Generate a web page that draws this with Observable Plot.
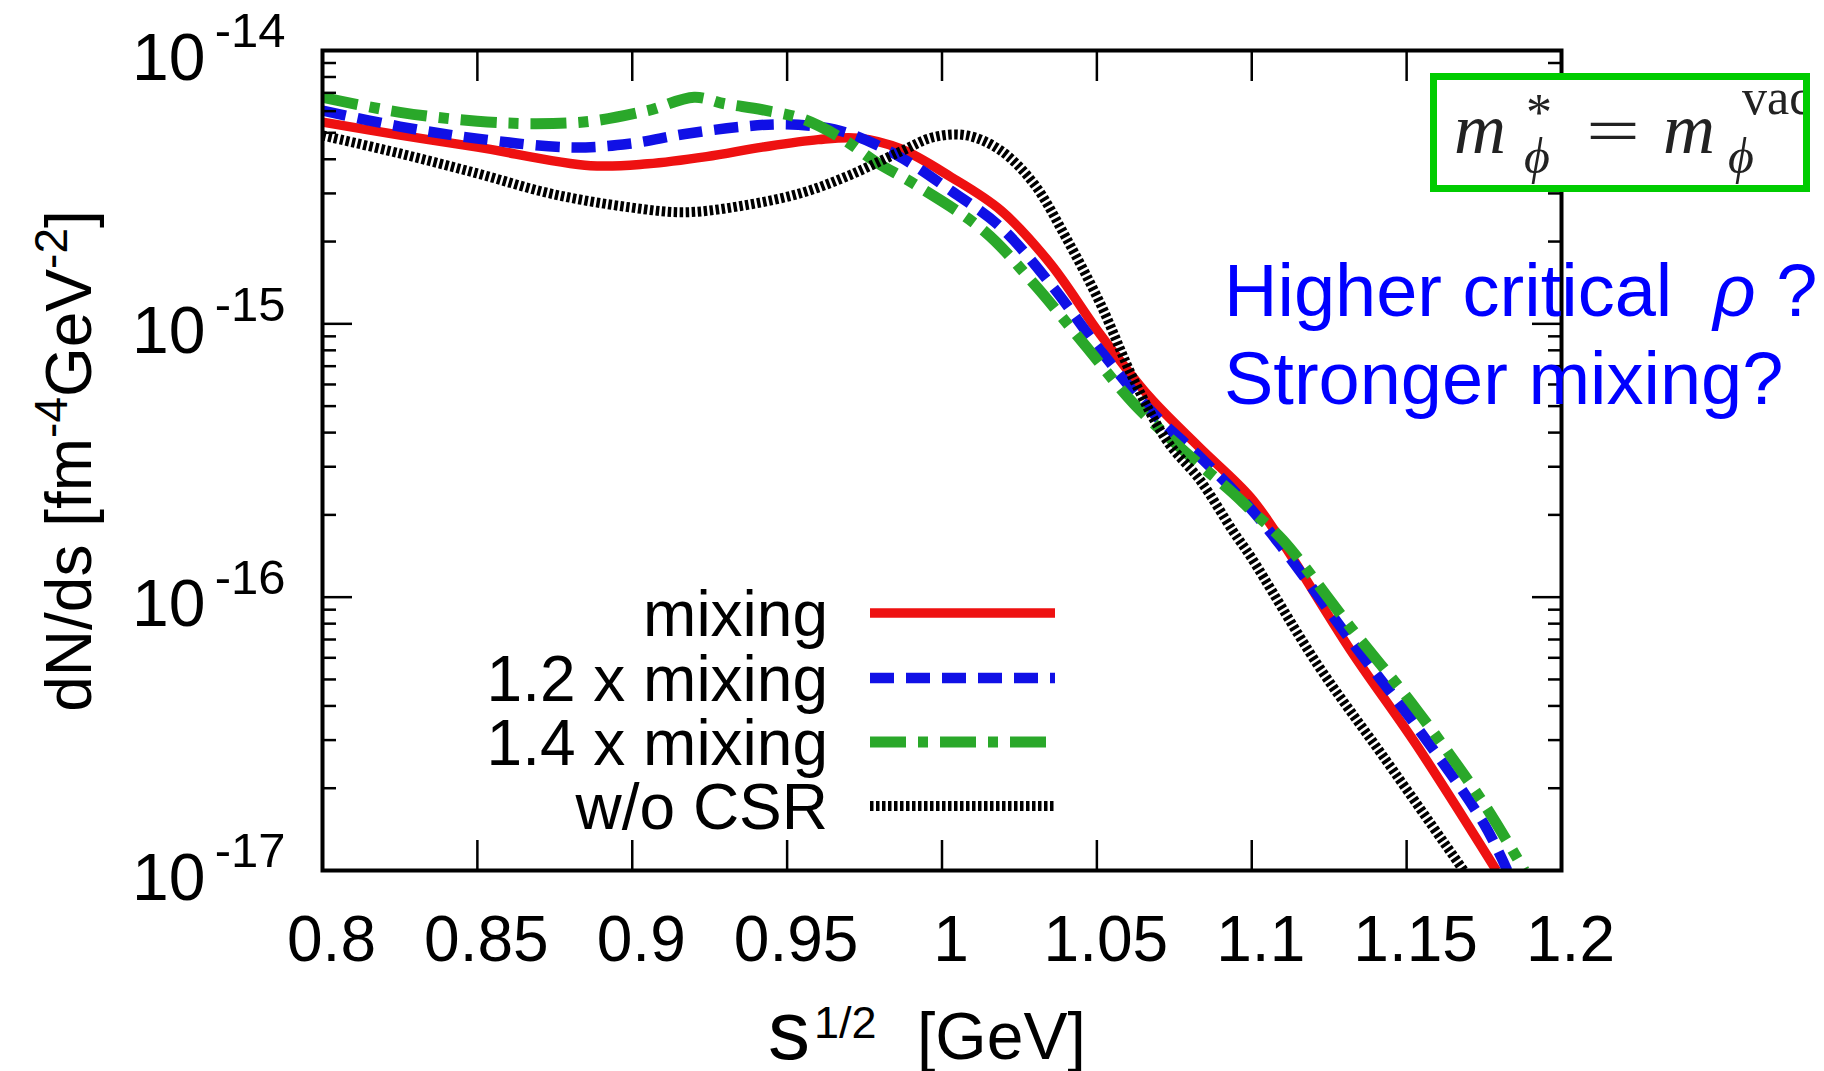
<!DOCTYPE html>
<html>
<head>
<meta charset="utf-8">
<script src="https://cdn.jsdelivr.net/npm/d3@7"></script>
<script src="https://cdn.jsdelivr.net/npm/@observablehq/plot@0.6"></script>
<style>
  html, body { margin: 0; padding: 0; background: #fff; }
  #chart { position: relative; width: 1824px; height: 1071px; overflow: hidden; }
  #chart svg { display: block; }
</style>
</head>
<body>
<div id="chart"></div>
<script>
// ---------------- data ----------------
const xTicks = [0.8, 0.85, 0.9, 0.95, 1.0, 1.05, 1.1, 1.15, 1.2];
const xTickLabels = ["0.8", "0.85", "0.9", "0.95", "1", "1.05", "1.1", "1.15", "1.2"];
const yMajorTicks = [1e-14, 1e-15, 1e-16, 1e-17];
const yTickExponents = ["-14", "-15", "-16", "-17"];
const yMinorTicks = [
  2e-17, 3e-17, 4e-17, 5e-17, 6e-17, 7e-17, 8e-17, 9e-17,
  2e-16, 3e-16, 4e-16, 5e-16, 6e-16, 7e-16, 8e-16, 9e-16,
  2e-15, 3e-15, 4e-15, 5e-15, 6e-15, 7e-15, 8e-15, 9e-15
];

const seriesNames = ["mixing", "1.2 x mixing", "1.4 x mixing", "w/o CSR"];
const seriesColors = ["#ee1111", "#1010e6", "#2aa82a", "#000000"];

const mixingX = [0.80, 0.825, 0.85, 0.8865, 0.905, 0.924, 0.942, 0.96, 0.973, 0.9866, 1.003, 1.019, 1.035, 1.051, 1.067, 1.083, 1.0996, 1.110, 1.132, 1.153, 1.179];
const mixingY = [5.47e-15, 4.90e-15, 4.43e-15, 3.79e-15, 3.85e-15, 4.09e-15, 4.43e-15, 4.72e-15, 4.78e-15, 4.37e-15, 3.44e-15, 2.60e-15, 1.66e-15, 9.18e-16, 5.40e-16, 3.54e-16, 2.32e-16, 1.58e-16, 6.38e-17, 2.90e-17, 1.00e-17];

const mix12X = [0.80, 0.825, 0.85, 0.88, 0.899, 0.917, 0.936, 0.948, 0.961, 0.9705, 0.9866, 1.0027, 1.0189, 1.035, 1.0512, 1.0673, 1.0834, 1.0996, 1.110, 1.132, 1.1534, 1.175, 1.1825];
const mix12Y = [6.03e-15, 5.27e-15, 4.76e-15, 4.42e-15, 4.56e-15, 4.95e-15, 5.27e-15, 5.37e-15, 5.25e-15, 4.95e-15, 4.07e-15, 3.08e-15, 2.26e-15, 1.40e-15, 7.98e-16, 4.82e-16, 3.25e-16, 2.11e-16, 1.51e-16, 6.93e-17, 3.34e-17, 1.48e-17, 1.00e-17];

const mix14X = [0.80, 0.825, 0.85, 0.869, 0.8865, 0.905, 0.92, 0.93, 0.942, 0.955, 0.967, 0.979, 0.991, 1.0135, 1.0297, 1.0458, 1.062, 1.078, 1.094, 1.0996, 1.110, 1.1319, 1.1534, 1.175, 1.188];
const mix14Y = [6.74e-15, 5.94e-15, 5.51e-15, 5.40e-15, 5.51e-15, 6.03e-15, 6.74e-15, 6.38e-15, 6.07e-15, 5.62e-15, 4.82e-15, 3.89e-15, 3.25e-15, 2.19e-15, 1.40e-15, 8.45e-16, 5.09e-16, 3.44e-16, 2.40e-16, 2.09e-16, 1.62e-16, 7.76e-17, 3.85e-17, 1.75e-17, 1.00e-17];

const noCsrX = [0.80, 0.825, 0.85, 0.874, 0.899, 0.917, 0.936, 0.955, 0.9705, 0.9866, 0.9973, 1.008, 1.0189, 1.0297, 1.040, 1.0512, 1.062, 1.0727, 1.0834, 1.094, 1.0996, 1.1211, 1.1426, 1.1684];
const noCsrY = [4.89e-15, 4.20e-15, 3.55e-15, 2.99e-15, 2.67e-15, 2.56e-15, 2.71e-15, 3.02e-15, 3.51e-15, 4.27e-15, 4.82e-15, 4.89e-15, 4.31e-15, 3.25e-15, 2.07e-15, 1.18e-15, 6.21e-16, 3.72e-16, 2.67e-16, 1.74e-16, 1.41e-16, 5.70e-17, 2.60e-17, 1.00e-17];

// ---------------- build ----------------
const seriesData = [
  {xs: mixingX, ys: mixingY, width: 9.5, dash: null},
  {xs: mix12X, ys: mix12Y, width: 10.5, dash: "24,12"},
  {xs: mix14X, ys: mix14Y, width: 11, dash: "36,12,10,12"},
  {xs: noCsrX, ys: noCsrY, width: 10, dash: "3.5,2.5"}
].map((s, k) => ({...s, name: seriesNames[k], color: seriesColors[k],
  rows: s.xs.map((x, i) => ({x, y: s.ys[i]}))}));

const FONT = "'Liberation Sans', Arial, Helvetica, sans-serif";
const noText = () => "";

const tickAxes = [];
for (const anchor of ["bottom", "top"]) {
  tickAxes.push(Plot.axisX({anchor, ticks: xTicks, tickSize: -30, strokeWidth: 2.5, tickFormat: noText, label: null}));
}
for (const anchor of ["left", "right"]) {
  tickAxes.push(Plot.axisY({anchor, ticks: yMajorTicks, tickSize: -30, strokeWidth: 2.5, tickFormat: noText, label: null}));
  tickAxes.push(Plot.axisY({anchor, ticks: yMinorTicks, tickSize: -14, strokeWidth: 2.5, tickFormat: noText, label: null}));
}

const lineMarks = seriesData.map(s => Plot.line(s.rows, {
  x: "x", y: "y", stroke: s.color, strokeWidth: s.width,
  strokeDasharray: s.dash, strokeLinecap: "butt", strokeLinejoin: "round",
  curve: "catmull-rom", clip: true
}));

const plot = Plot.plot({
  width: 1824,
  height: 1071,
  marginLeft: 322,
  marginRight: 263,
  marginTop: 50,
  marginBottom: 201,
  style: {fontFamily: FONT, background: "#fff", color: "#000", overflow: "visible"},
  x: {domain: [0.8, 1.2]},
  y: {type: "log", domain: [1e-17, 1e-14]},
  marks: [
    ...lineMarks,
    ...tickAxes,
    Plot.axisX({anchor: "bottom", ticks: xTicks, tickSize: 0, tickPadding: 45, dx: 9,
      fontSize: 64, tickFormat: d => xTickLabels[xTicks.indexOf(d)], label: null}),
    Plot.axisY({anchor: "left", ticks: yMajorTicks, tickSize: 0, tickPadding: 117, dy: 8,
      fontSize: 66, textAnchor: "end", tickFormat: () => "10", label: null}),
    Plot.axisY({anchor: "left", ticks: yMajorTicks, tickSize: 0, tickPadding: 37, dy: -19,
      fontSize: 49, textAnchor: "end", tickFormat: d => yTickExponents[yMajorTicks.indexOf(d)], label: null}),
    Plot.frame({stroke: "#000", strokeWidth: 4})
  ]
});

document.getElementById("chart").appendChild(plot);

// ---------------- annotations (legend, labels, boxes) ----------------
const svg = d3.select(plot);

// x axis label
const xl = svg.append("g").attr("font-family", FONT).attr("fill", "#000").attr("text-anchor", "start");
xl.append("text").attr("x", 768).attr("y", 1059).attr("font-size", 84).text("s");
xl.append("text").attr("x", 814).attr("y", 1038).attr("font-size", 45).text("1/2");
xl.append("text").attr("x", 917).attr("y", 1059).attr("font-size", 66).text("[GeV]");

// y axis label
const yl = svg.append("text")
  .attr("font-family", FONT).attr("fill", "#000")
  .attr("text-anchor", "middle")
  .attr("transform", "translate(91,461) rotate(-90)")
  .attr("font-size", 64);
yl.append("tspan").text("dN/ds [fm");
yl.append("tspan").attr("font-size", 46).attr("dy", -24).text("-4");
yl.append("tspan").attr("dy", 24).text("GeV");
yl.append("tspan").attr("font-size", 46).attr("dy", -24).text("-2");
yl.append("tspan").attr("dy", 24).text("]");

// legend
const lg = svg.append("g").attr("font-family", FONT).attr("font-size", 64).attr("fill", "#000");
const legY = [613, 678, 742, 806];
seriesData.forEach((s, k) => {
  lg.append("text").attr("x", 828).attr("y", legY[k] + 23).attr("text-anchor", "end").text(s.name);
  lg.append("line").attr("x1", 870).attr("x2", 1055).attr("y1", legY[k]).attr("y2", legY[k])
    .attr("stroke", s.color).attr("stroke-width", s.width)
    .attr("stroke-dasharray", s.dash).attr("stroke-linecap", "butt");
});

// green equation box
const defs = svg.append("defs");
defs.append("clipPath").attr("id", "eqclip")
  .append("rect").attr("x", 1437).attr("y", 80).attr("width", 366).attr("height", 105);
svg.append("rect").attr("x", 1433.5).attr("y", 76.5).attr("width", 373).attr("height", 112)
  .attr("fill", "#fff").attr("stroke", "#00cc00").attr("stroke-width", 7);
const eq = svg.append("g").attr("clip-path", "url(#eqclip)").attr("text-anchor", "start")
  .attr("font-family", "'Liberation Serif', 'DejaVu Serif', serif").attr("fill", "#222");
eq.append("text").attr("x", 1454).attr("y", 153).attr("font-size", 72).attr("font-style", "italic").text("m");
eq.append("text").attr("x", 1526).attr("y", 130).attr("font-size", 52).text("*");
eq.append("text").attr("x", 1524).attr("y", 173).attr("font-size", 50).attr("font-style", "italic").text("ϕ");
eq.append("text").attr("x", 1586).attr("y", 153).attr("font-size", 66)
  .attr("textLength", 54).attr("lengthAdjust", "spacingAndGlyphs").text("=");
eq.append("text").attr("x", 1663).attr("y", 153).attr("font-size", 72).attr("font-style", "italic").text("m");
eq.append("text").attr("x", 1728).attr("y", 173).attr("font-size", 50).attr("font-style", "italic").text("ϕ");
eq.append("text").attr("x", 1742).attr("y", 114).attr("font-size", 50).text("vac");

// blue annotation
const bt = svg.append("g").attr("font-family", FONT).attr("font-size", 74).attr("fill", "#0000ff")
  .attr("text-anchor", "start").style("white-space", "pre");
const l1 = bt.append("text").attr("x", 1224).attr("y", 316);
l1.append("tspan").text("Higher critical  ");
l1.append("tspan").attr("font-style", "italic").text("ρ");
l1.append("tspan").text(" ?");
bt.append("text").attr("x", 1224).attr("y", 404).text("Stronger mixing?");
</script>
</body>
</html>
